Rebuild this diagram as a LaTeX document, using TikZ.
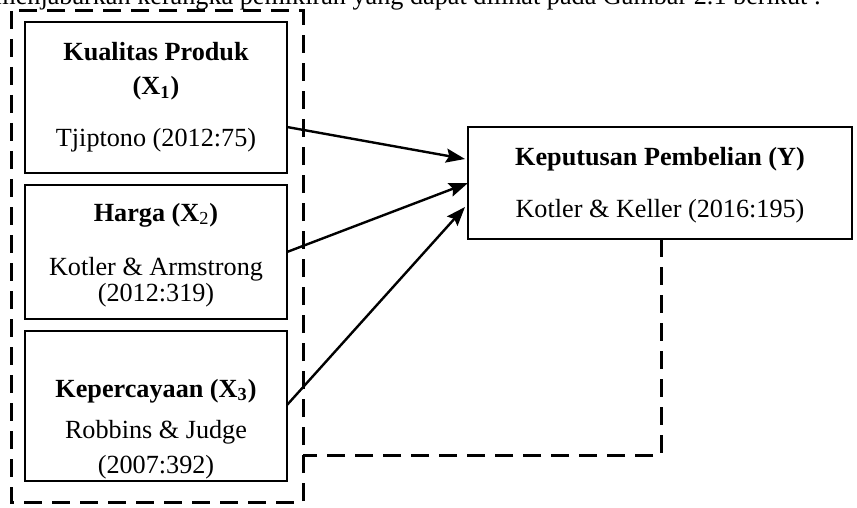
\documentclass[tikz,border=0pt]{standalone}
\usepackage{fontspec}
\setmainfont{Liberation Serif}
\usetikzlibrary{arrows.meta}
\begin{document}
\begin{tikzpicture}[x=0.5pt,y=-0.5pt,
  box/.style={draw,line width=0.65pt},
  dsh/.style={line width=1.5pt,dash pattern=on 9pt off 5pt},
  arr/.style={line width=1.2pt,-{Stealth[length=9.5pt,width=7pt,inset=1.5pt]}},
  txt/.style={anchor=base,inner sep=0pt,font=\fontsize{13.1}{15.7}\selectfont}]
\useasboundingbox (0,0) rectangle (857,508);
\clip (0,0) rectangle (857,508);
% top text
\node[txt,anchor=base west] (top) at (-5,5) {menjabarkan kerangka pemikiran yang dapat dilihat pada Gambar 2.1 berikut :};
% outer dashed
\draw[dsh] (11,11) rectangle (303,502);
% boxes
\draw[box] (25,22) rectangle (287,173);
\draw[box] (25,185) rectangle (287,319);
\draw[box] (25,331) rectangle (287,481);
\draw[box] (468,127) rectangle (852,239);
\coordinate (ybot) at (661,239);
\coordinate (fb1) at (661,455);
\coordinate (fb2) at (303,455);
% texts box1
\node[txt] (k1) at (156,61) {\bfseries Kualitas Produk};
\node[txt] (k1x) at (156,95) {\bfseries (X\textsubscript{1})};
\node[txt] (k1r) at (156,147) {Tjiptono (2012:75)};
% box2
\node[txt] (k2) at (156,221) {\bfseries Harga (X\textsubscript{\mdseries 2})};
\node[txt] (k2r) at (156,275) {Kotler \& Armstrong};
\node[txt] (k2r2) at (156,301) {(2012:319)};
% box3
\node[txt] (k3) at (156,397) {\bfseries Kepercayaan (X\textsubscript{3})};
\node[txt] (k3r) at (156,438) {Robbins \& Judge};
\node[txt] (k3r2) at (156,473) {(2007:392)};
% Y
\node[txt] (y1) at (660,165) {\bfseries Keputusan Pembelian (Y)};
\node[txt] (y2) at (660,217) {Kotler \& Keller (2016:195)};
% arrows
\coordinate (s1) at (287,127);
\coordinate (s2) at (287,252);
\coordinate (s3) at (287,405);
\coordinate (t1) at (465,159);
\coordinate (t2) at (468,183);
\coordinate (t3) at (465,207);
\draw[arr] (s1) -- (t1);
\draw[arr] (s2) -- (t2);
\draw[arr] (s3) -- (t3);
% feedback dashed
\draw[dsh] (ybot) -- (fb1) -- (fb2);
\end{tikzpicture}
\end{document}
